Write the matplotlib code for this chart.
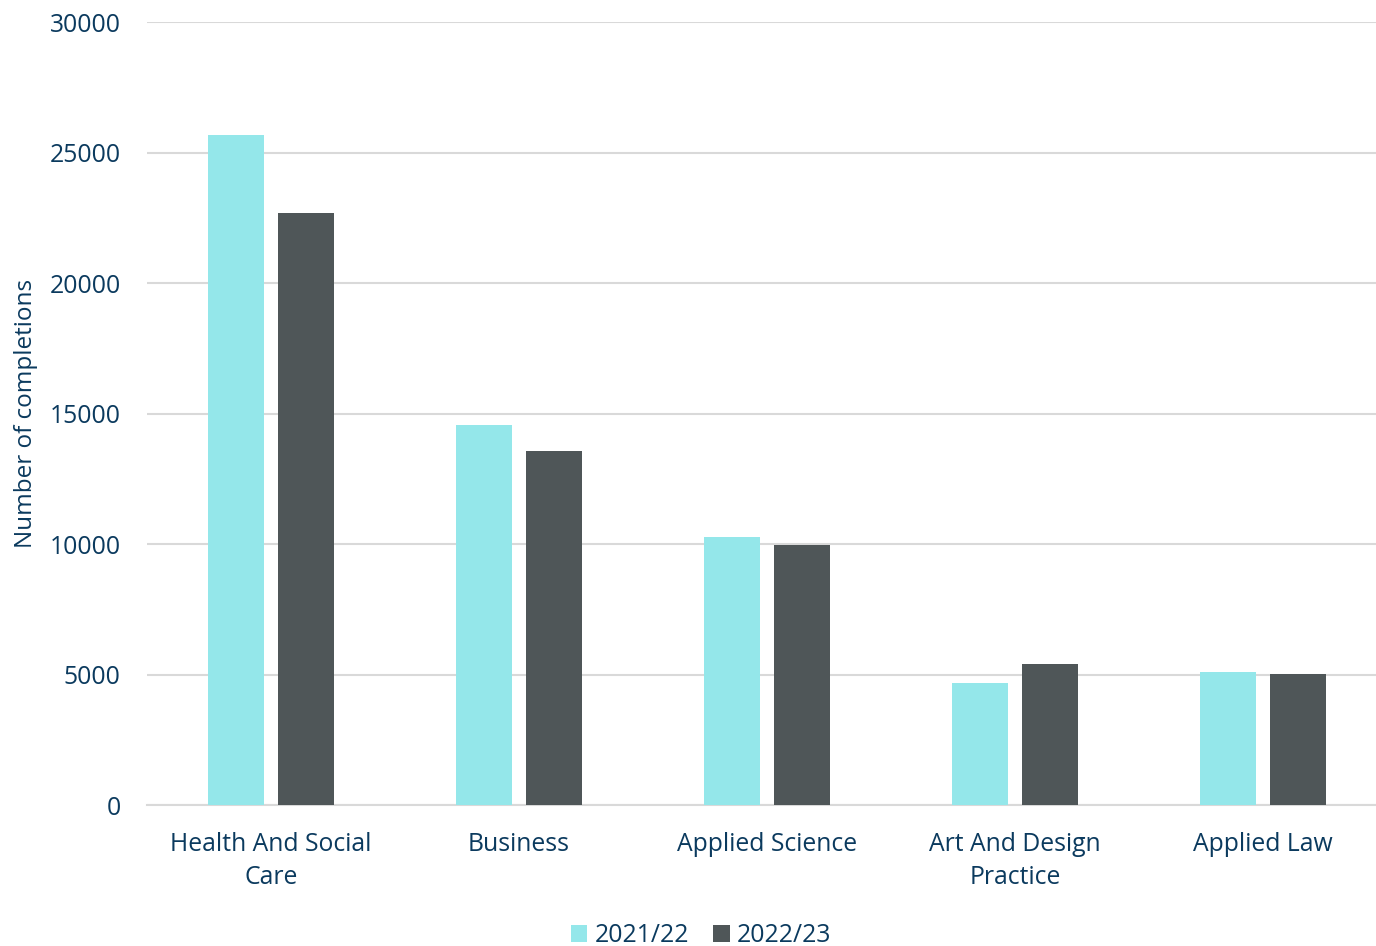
import matplotlib
matplotlib.use("Agg")
import matplotlib.pyplot as plt
import numpy as np

categories = ["Health And Social\nCare", "Business", "Applied Science", "Art And Design\nPractice", "Applied Law"]
series_names = ["2021/22", "2022/23"]
values_2122 = [25670, 14560, 10270, 4680, 5100]
values_2223 = [22680, 13560, 9970, 5400, 5020]
yticks = [0, 5000, 10000, 15000, 20000, 25000, 30000]

text_color = "#0B3A5E"
colors = ["#94E7EA", "#4F5658"]
plt.rcParams['font.family'] = ['Open Sans', 'DejaVu Sans']

fig = plt.figure(figsize=(13.76, 9.46), dpi=100)
ax = fig.add_axes([0.1068, 0.149, 0.9012, 0.8277])

x = np.arange(len(categories))
w = 0.226
off = 0.141
ax.bar(x - off, values_2122, width=w, color=colors[0], label=series_names[0], zorder=3)
ax.bar(x + off, values_2223, width=w, color=colors[1], label=series_names[1], zorder=3)

ax.set_xlim(-0.5, len(categories) - 0.5)
ax.set_ylim(0, 30000)
ax.set_yticks(yticks)
ax.set_yticklabels([str(v) for v in yticks], fontsize=17.8, color=text_color)
ax.set_xticks(x)
ax.set_xticklabels(categories, fontsize=17.8, color=text_color, linespacing=1.42)
ax.tick_params(axis='x', length=0, pad=19.5)
ax.tick_params(axis='y', length=0, pad=19)
ax.grid(axis='y', color="#D9D9D9", linewidth=1.5, zorder=0)
for s in ["top", "right", "left"]:
    ax.spines[s].set_visible(False)
ax.spines["bottom"].set_color("#D9D9D9")
ax.spines["bottom"].set_linewidth(1.5)
ax.set_ylabel("Number of completions", fontsize=17.5, color=text_color, labelpad=8)

leg = fig.legend(loc="lower center", bbox_to_anchor=(0.5095, -0.026), ncol=2, frameon=False,
                 fontsize=17.8, handlelength=0.65, handleheight=0.65, handletextpad=0.3, columnspacing=1.0)
for t in leg.get_texts():
    t.set_color(text_color)

fig.savefig("out.png", dpi=100)
